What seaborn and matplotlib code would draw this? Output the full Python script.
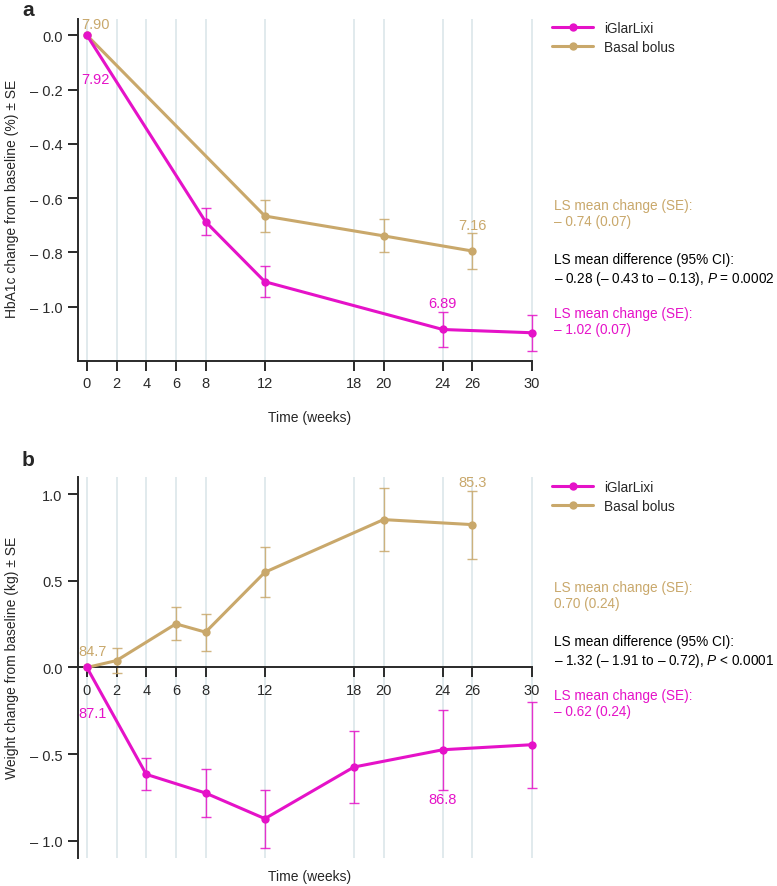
import seaborn as sns
import matplotlib.pyplot as plt
import pandas as pd
from matplotlib.lines import Line2D
from matplotlib.ticker import FuncFormatter

# panel a: HbA1c change from baseline (%)
a_lixi_weeks = [0, 8, 12, 24, 30]
a_lixi_mean = [0.0, -0.687, -0.908, -1.084, -1.096]
a_lixi_se = [0.0, 0.050, 0.058, 0.063, 0.066]
a_bb_weeks = [0, 12, 20, 26]
a_bb_mean = [0.0, -0.666, -0.739, -0.795]
a_bb_se = [0.0, 0.058, 0.061, 0.067]

# panel b: weight change from baseline (kg)
b_lixi_weeks = [0, 4, 8, 12, 18, 24, 30]
b_lixi_mean = [0.0, -0.617, -0.725, -0.873, -0.575, -0.475, -0.446]
b_lixi_se = [0.0, 0.093, 0.137, 0.167, 0.210, 0.230, 0.248]
b_bb_weeks = [0, 2, 6, 8, 12, 20, 26]
b_bb_mean = [0.0, 0.040, 0.252, 0.204, 0.550, 0.854, 0.825]
b_bb_se = [0.0, 0.072, 0.096, 0.106, 0.144, 0.182, 0.197]

week_ticks = [0, 2, 4, 6, 8, 12, 18, 20, 24, 26, 30]
series_names = ["iGlarLixi", "Basal bolus"]

MAG = "#E512C8"
TAN = "#C9A86B"
GRID = "#DCE6EA"
DARK = "#2a2a2a"

sns.set_style("ticks")
plt.rcParams['font.family'] = ['Liberation Sans', 'DejaVu Sans']
plt.rcParams['mathtext.fontset'] = 'custom'
plt.rcParams['mathtext.rm'] = 'Liberation Sans'
plt.rcParams['mathtext.it'] = 'Liberation Sans:italic'


def dash_fmt(v, pos):
    if abs(v) < 1e-9:
        return "0.0"
    return f"– {abs(v):.1f}" if v < 0 else f"{v:.1f}"


def draw_series(ax, weeks, mean, se, color, z):
    df = pd.DataFrame({"week": weeks, "mean": mean})
    sns.lineplot(data=df, x="week", y="mean", ax=ax, color=color, lw=2.2,
                 marker="o", markersize=6, markeredgewidth=0, zorder=z,
                 clip_on=False, legend=False)
    ax.errorbar(weeks[1:], mean[1:], yerr=se[1:], fmt="none", ecolor=color,
                elinewidth=1, capsize=3.5, capthick=1, alpha=0.85, zorder=z - 1,
                clip_on=False)


def style_axis(ax, ylim, yticks):
    ax.set_xlim(-0.6, 30.6)
    ax.set_ylim(*ylim)
    ax.set_xticks(week_ticks)
    ax.set_yticks(yticks)
    ax.yaxis.set_major_formatter(FuncFormatter(dash_fmt))
    ax.xaxis.grid(True, color=GRID, lw=1.2)
    ax.set_axisbelow(True)
    for s in ["top", "right"]:
        ax.spines[s].set_visible(False)
    for s in ["left", "bottom"]:
        ax.spines[s].set_color(DARK)
        ax.spines[s].set_linewidth(1.4)
    ax.spines["bottom"].set_bounds(-0.6, 30)
    ax.tick_params(axis="both", colors=DARK, labelsize=10.5, length=7.5,
                   width=1.4, pad=3.5)


def place_labels(ax, xlab, ylab, xy_x, xy_y):
    ax.set_xlabel(xlab, fontsize=10, va="center")
    ax.set_ylabel(ylab, fontsize=10, va="center")
    ax.xaxis.set_label_coords(*xy_x)
    ax.yaxis.set_label_coords(*xy_y)


fig = plt.figure(figsize=(7.77, 8.87), dpi=100)
ax_a = fig.add_axes([0.1004, 0.5919, 0.5955, 0.3856])
ax_b = fig.add_axes([0.1004, 0.0316, 0.5955, 0.4295])

# ---- panel a
draw_series(ax_a, a_bb_weeks, a_bb_mean, a_bb_se, TAN, 3)
draw_series(ax_a, a_lixi_weeks, a_lixi_mean, a_lixi_se, MAG, 5)
style_axis(ax_a, (-1.2, 0.06), [0.0, -0.2, -0.4, -0.6, -0.8, -1.0])
place_labels(ax_a, "Time (weeks)", "HbA1c change from baseline (%) ± SE",
             (0.501, -0.164), (-0.143, 0.477))
ax_a.text(0.55, 0.043, "7.90", color=TAN, fontsize=10.5, ha="center", va="center")
ax_a.text(0.55, -0.163, "7.92", color=MAG, fontsize=10.5, ha="center", va="center")
ax_a.text(26, -0.70, "7.16", color=TAN, fontsize=10.5, ha="center", va="center")
ax_a.text(24, -0.988, "6.89", color=MAG, fontsize=10.5, ha="center", va="center")

# ---- panel b
draw_series(ax_b, b_bb_weeks, b_bb_mean, b_bb_se, TAN, 3)
draw_series(ax_b, b_lixi_weeks, b_lixi_mean, b_lixi_se, MAG, 5)
style_axis(ax_b, (-1.1, 1.1), [1.0, 0.5, 0.0, -0.5, -1.0])
ax_b.spines["bottom"].set_position(("data", 0))
place_labels(ax_b, "Time (weeks)", "Weight change from baseline (kg) ± SE",
             (0.501, -0.047), (-0.143, 0.528))
ax_b.text(0.4, 0.098, "84.7", color=TAN, fontsize=10.5, ha="center", va="center")
ax_b.text(0.4, -0.26, "87.1", color=MAG, fontsize=10.5, ha="center", va="center")
ax_b.text(26, 1.071, "85.3", color=TAN, fontsize=10.5, ha="center", va="center")
ax_b.text(24, -0.757, "86.8", color=MAG, fontsize=10.5, ha="center", va="center")

# panel letters
fig.text(0.036, 1 - 16 / 887, "a", fontsize=15, fontweight="bold",
         va="baseline", ha="center")
fig.text(0.036, 1 - 466 / 887, "b", fontsize=15, fontweight="bold",
         va="baseline", ha="center")

# legends
handles = [Line2D([], [], color=c, lw=2.2, marker="o", markersize=6, markeredgewidth=0)
           for c in (MAG, TAN)]
for ytop in (0.9752, 0.4577):
    fig.legend(handles, series_names, loc="upper left",
               bbox_to_anchor=(0.711, ytop), frameon=False, fontsize=9.8,
               handlelength=3.0, handletextpad=0.8, labelspacing=0.35,
               borderpad=0, borderaxespad=0)

# LS mean annotations
x_txt = 0.713
notes_a = [(206, "LS mean change (SE):\n– 0.74 (0.07)", TAN),
           (260, "LS mean difference (95% CI):\n– 0.28 (– 0.43 to – 0.13), $\\it{P}$ = 0.0002", "black"),
           (314, "LS mean change (SE):\n– 1.02 (0.07)", MAG)]
notes_b = [(588, "LS mean change (SE):\n0.70 (0.24)", TAN),
           (642, "LS mean difference (95% CI):\n– 1.32 (– 1.91 to – 0.72), $\\it{P}$ < 0.0001", "black"),
           (696, "LS mean change (SE):\n– 0.62 (0.24)", MAG)]
for ypx, txt, col in notes_a + notes_b:
    fig.text(x_txt, 1 - (ypx - 7) / 887, txt, color=col, fontsize=9.8,
             va="top", ha="left", linespacing=1.2)

fig.savefig("out.png", dpi=100)
